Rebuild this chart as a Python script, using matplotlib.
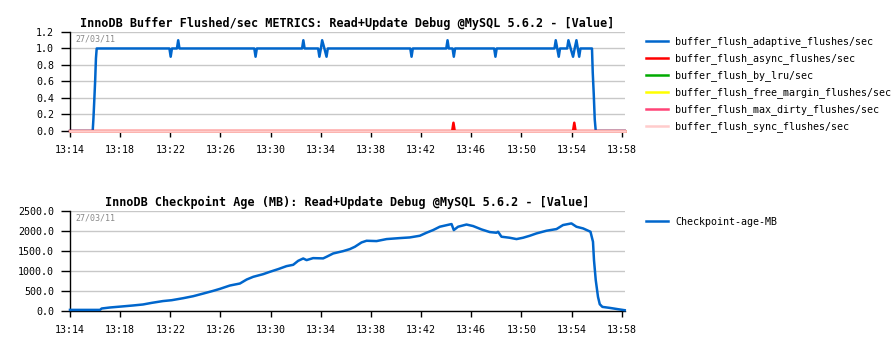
import matplotlib
matplotlib.use("Agg")
import matplotlib.pyplot as plt

# minutes after 13:14
tick_labels = ["13:14", "13:18", "13:22", "13:26", "13:30", "13:34",
               "13:38", "13:42", "13:46", "13:50", "13:54", "13:58"]
date_label = "27/03/11"

adaptive_t = [0.0, 1.81, 1.87, 1.94, 2.01, 2.07, 2.13,
              7.93, 8.03, 8.13, 8.53, 8.63, 8.73,
              14.70, 14.80, 14.90, 18.51, 18.61, 18.71,
              19.79, 19.89, 20.01, 20.11, 20.29, 20.46, 20.56,
              27.14, 27.24, 27.34, 30.01, 30.11, 30.21, 30.51, 30.61, 30.71,
              33.83, 33.93, 34.03, 38.64, 38.74, 38.86, 38.98, 39.08,
              39.65, 39.75, 39.93, 40.12, 40.25, 40.39, 40.50, 40.61, 40.71,
              41.63, 41.69, 41.77, 41.85, 41.93, 44.24]
adaptive_v = [0.0, 0.0, 0.15, 0.38, 0.62, 0.88, 1.0,
              1.0, 0.9, 1.0, 1.0, 1.1, 1.0,
              1.0, 0.9, 1.0, 1.0, 1.1, 1.0,
              1.0, 0.9, 1.0, 1.1, 1.0, 0.9, 1.0,
              1.0, 0.9, 1.0, 1.0, 1.1, 1.0, 1.0, 0.9, 1.0,
              1.0, 0.9, 1.0, 1.0, 1.1, 1.0, 0.9, 1.0,
              1.0, 1.1, 1.0, 0.9, 1.0, 1.1, 1.0, 0.9, 1.0,
              1.0, 0.71, 0.45, 0.14, 0.0, 0.0]

async_t = [0.0, 30.48, 30.58, 30.68, 40.12, 40.22, 40.32, 44.24]
async_v = [0.0, 0.0, 0.1, 0.0, 0.0, 0.1, 0.0, 0.0]

flat_t = [0.0, 44.24]
lru_v = [0.0, 0.0]
free_margin_v = [0.0, 0.0]
max_dirty_v = [0.0, 0.0]
sync_v = [0.0, 0.0]

ckpt_t = [0.0, 2.39, 2.53, 3.19, 4.12, 5.02, 5.82, 6.51, 7.41, 8.11, 9.03,
          9.83, 10.63, 11.42, 11.96, 12.75, 13.55, 14.09, 14.61, 15.41, 15.94,
          16.60, 17.27, 17.80, 18.20, 18.60, 18.87, 19.39, 20.19, 20.46, 20.99,
          21.79, 22.32, 22.72, 23.25, 23.65, 24.45, 25.25, 26.31, 27.10, 27.90,
          28.43, 28.96, 29.49, 30.43, 30.61, 30.95, 31.62, 32.15, 32.82, 33.48,
          34.01, 34.14, 34.41, 35.07, 35.61, 36.13, 36.67, 37.20, 38.00, 38.80,
          39.32, 39.99, 40.39, 40.92, 41.51, 41.71, 41.79, 41.93, 42.11, 42.25,
          42.46, 43.05, 43.71, 44.24]
ckpt_v = [20, 20, 55, 80, 105, 130, 155, 195, 240, 262, 312,
          362, 428, 495, 545, 628, 678, 778, 845, 912, 970,
          1037, 1112, 1145, 1245, 1303, 1262, 1312, 1305, 1345, 1428,
          1487, 1537, 1595, 1703, 1745, 1737, 1787, 1812, 1828, 1870,
          1945, 2012, 2095, 2162, 2012, 2095, 2150, 2112, 2028, 1962,
          1945, 1970, 1846, 1820, 1787, 1820, 1870, 1928, 1995, 2037,
          2137, 2178, 2095, 2053, 1970, 1720, 1262, 762, 345, 162,
          95, 70, 37, 12]

mono = "DejaVu Sans Mono"
plt.rcParams["font.family"] = mono

fig = plt.figure(figsize=(8.95, 3.48), dpi=100)
ax1 = fig.add_axes([0.0782, 0.6236, 0.6198, 0.2845])
ax2 = fig.add_axes([0.0782, 0.1072, 0.6198, 0.2879])

top_series = [
    (adaptive_t, adaptive_v, "#0066cc", "buffer_flush_adaptive_flushes/sec"),
    (async_t, async_v, "#ff0000", "buffer_flush_async_flushes/sec"),
    (flat_t, lru_v, "#00aa00", "buffer_flush_by_lru/sec"),
    (flat_t, free_margin_v, "#ffff00", "buffer_flush_free_margin_flushes/sec"),
    (flat_t, max_dirty_v, "#ff4477", "buffer_flush_max_dirty_flushes/sec"),
    (flat_t, sync_v, "#ffcccc", "buffer_flush_sync_flushes/sec"),
]
for t, v, c, name in top_series:
    ax1.plot(t, v, color=c, lw=1.8, label=name, clip_on=False, zorder=3)

ax2.plot(ckpt_t, ckpt_v, color="#0066cc", lw=1.8, label="Checkpoint-age-MB",
         clip_on=False, zorder=3)

for ax, ymax, step, fmt in [(ax1, 1.2, 0.2, "{:.1f}"), (ax2, 2500, 500, "{:.1f}")]:
    ax.set_xlim(0, 44.24)
    ax.set_ylim(0, ymax)
    yt = [i * step for i in range(int(round(ymax / step)) + 1)]
    ax.set_yticks(yt)
    ax.set_yticklabels([fmt.format(y) for y in yt])
    ax.set_xticks([i * 4 for i in range(len(tick_labels))])
    ax.set_xticklabels(tick_labels)
    ax.grid(axis="y", color="#c8c8c8", lw=1)
    ax.set_axisbelow(True)
    for s in ["top", "right"]:
        ax.spines[s].set_visible(False)
    ax.spines["left"].set_linewidth(1)
    ax.spines["bottom"].set_linewidth(1)
    ax.tick_params(axis="y", length=6.5, width=1, pad=5, labelsize=7.2)
    ax.tick_params(axis="x", length=4, width=1, pad=6, labelsize=7.2)
    ax.text(0.01, 0.97, date_label, transform=ax.transAxes, fontsize=6,
            color="#888888", va="top", ha="left")

ax1.set_title("InnoDB Buffer Flushed/sec METRICS: Read+Update Debug @MySQL 5.6.2 - [Value]",
              fontsize=8.45, fontweight="bold", pad=3.5)
ax2.set_title("InnoDB Checkpoint Age (MB): Read+Update Debug @MySQL 5.6.2 - [Value]",
              fontsize=8.45, fontweight="bold", pad=3.5)

leg_kw = dict(loc="upper left", frameon=False, fontsize=7.2, handlelength=2.2,
              handletextpad=0.7, borderpad=0, borderaxespad=0, labelspacing=0.6)
fig.legend(*ax1.get_legend_handles_labels(), bbox_to_anchor=(646 / 895, 0.895), **leg_kw)
fig.legend(*ax2.get_legend_handles_labels(), bbox_to_anchor=(646 / 895, 0.377), **leg_kw)

fig.savefig("out.png", dpi=100)
